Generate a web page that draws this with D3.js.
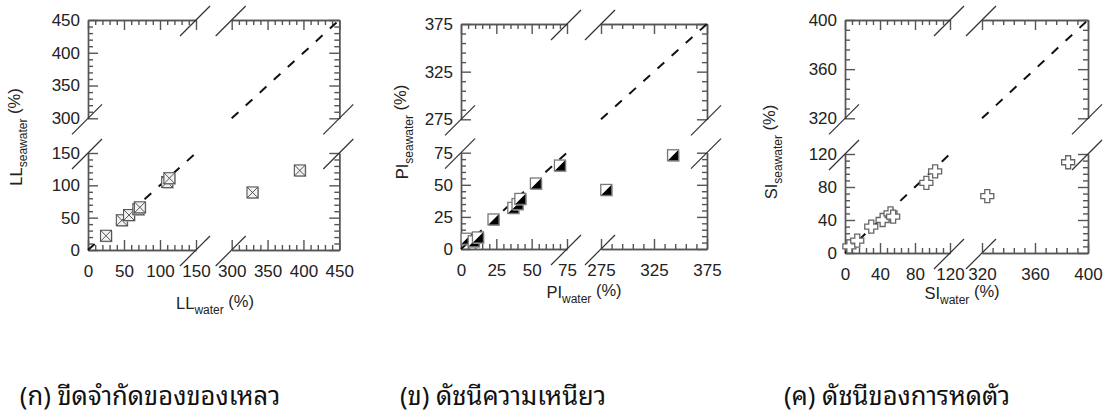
<!DOCTYPE html>
<html>
<head>
<meta charset="utf-8">
<script src="https://cdn.jsdelivr.net/npm/d3@7"></script>
<style>
  html, body { margin: 0; padding: 0; background: #fff; }
  svg { display: block; }
  .tick text { font-family: "Liberation Sans", Arimo, Arial, sans-serif; font-size: 17px; fill: #222; }
  .label { font-family: "Liberation Sans", Arimo, Arial, sans-serif; font-size: 16.5px; fill: #222; }
  .caption { font-family: "Noto Sans Thai Looped", "Noto Sans Thai", "Loma", "Garuda", "Noto Sans", sans-serif; font-size: 25.5px; fill: #111; }
</style>
</head>
<body>
<svg id="chart" width="1105" height="419"></svg>
<script>
// liquid limit (ก)
const llWater = [25, 47, 57, 70, 72, 110, 113, 329, 395]
const llSeawater = [22, 46, 54, 63, 66, 105, 111, 89, 123]
const llLow = [0, 150]
const llHigh = [300, 450]
const llTicksLow = [0, 50, 100, 150]
const llTicksHigh = [300, 350, 400, 450]

// plasticity index (ข)
const piWater = [4, 9, 12, 23, 37, 40, 42, 53, 70, 280, 343]
const piSeawater = [8, 6, 9, 23, 32, 35, 39, 51, 65, 46, 73]
const piLow = [0, 75]
const piHigh = [275, 375]
const piTicksLow = [0, 25, 50, 75]
const piTicksHigh = [275, 325, 375]

// shrinkage index (ค)
const siWater = [5, 14, 30, 43, 52, 55, 93, 103, 324, 385]
const siSeawater = [8, 15, 32, 40, 48, 44, 85, 99, 69, 110]
const siLow = [0, 120]
const siHigh = [320, 400]
const siTicksLow = [0, 40, 80, 120]
const siTicksHigh = [320, 360, 400]

const captions = ['(ก) ขีดจำกัดของของเหลว', '(ข) ดัชนีความเหนียว', '(ค) ดัชนีของการหดตัว']

const panels = [
  {
    name: 'LL', xs: llWater, ys: llSeawater, low: llLow, high: llHigh,
    ticksLow: llTicksLow, ticksHigh: llTicksHigh, minorLow: 10, minorHigh: 10, marker: 'boxx',
    xL: [88, 196], xH: [231.7, 339.3], yL: [250, 153], yH: [118.3, 20],
    yLabel: [22, 137], xLabel: [215, 309], caption: [150, 405]
  },
  {
    name: 'PI', xs: piWater, ys: piSeawater, low: piLow, high: piHigh,
    ticksLow: piTicksLow, ticksHigh: piTicksHigh, minorLow: 5, minorHigh: 10, marker: 'half',
    xL: [461, 567], xH: [601, 707], yL: [249, 152.7], yH: [119.3, 24],
    yLabel: [408, 132], xLabel: [584, 298], caption: [503, 405]
  },
  {
    name: 'SI', xs: siWater, ys: siSeawater, low: siLow, high: siHigh,
    ticksLow: siTicksLow, ticksHigh: siTicksHigh, minorLow: 8, minorHigh: 8, marker: 'plus',
    xL: [845, 950], xH: [982, 1088], yL: [253, 154], yH: [118.3, 20],
    yLabel: [777, 152], xLabel: [962, 299], caption: [897, 405]
  }
]

const svg = d3.select('#chart')
const AXIS = '#555'

function drawAxis (g, axisFn, scale, majors, step, pos, labels) {
  const minors = d3.range(scale.domain()[0], scale.domain()[1] + 0.001, step)
    .filter(v => !majors.includes(v))
  g.append('g').attr('transform', pos)
    .call(axisFn(scale).tickValues(minors).tickSizeInner(-5).tickSizeOuter(0).tickFormat(''))
  const major = g.append('g').attr('transform', pos)
    .call(axisFn(scale).tickValues(majors).tickSizeInner(-10).tickSizeOuter(0)
      .tickPadding(axisFn === d3.axisBottom ? 15 : 8)
      .tickFormat(labels ? d3.format('d') : ''))
  major.attr('font-family', null).attr('font-size', null)
  g.selectAll('.domain, .tick line').attr('stroke', AXIS).attr('stroke-width', 1.4)
  return major
}

function marker (g, type, x, y) {
  const s = 5.5
  if (type === 'boxx') {
    g.append('rect').attr('x', x - s + 1).attr('y', y - s + 1).attr('width', 2 * s).attr('height', 2 * s)
      .attr('fill', '#bbb')
    g.append('rect').attr('x', x - s).attr('y', y - s).attr('width', 2 * s).attr('height', 2 * s)
      .attr('fill', '#f2f2f2').attr('stroke', '#555').attr('stroke-width', 1.1)
    g.append('path').attr('d', `M${x - s},${y - s}L${x + s},${y + s}M${x + s},${y - s}L${x - s},${y + s}`)
      .attr('stroke', '#444').attr('stroke-width', 0.9)
  } else if (type === 'half') {
    g.append('rect').attr('x', x - s + 1).attr('y', y - s + 1).attr('width', 2 * s).attr('height', 2 * s)
      .attr('fill', '#bbb')
    g.append('rect').attr('x', x - s).attr('y', y - s).attr('width', 2 * s).attr('height', 2 * s)
      .attr('fill', '#fff')
    g.append('path').attr('d', `M${x + s},${y - s}L${x + s},${y + s}L${x - s},${y + s}Z`).attr('fill', '#000')
    g.append('rect').attr('x', x - s).attr('y', y - s).attr('width', 2 * s).attr('height', 2 * s)
      .attr('fill', 'none').attr('stroke', '#777').attr('stroke-width', 1.3)
  } else {
    const a = 6.5, b = 2.5
    const d = `M${x - b},${y - a}H${x + b}V${y - b}H${x + a}V${y + b}H${x + b}V${y + a}H${x - b}V${y + b}H${x - a}V${y - b}H${x - b}Z`
    g.append('path').attr('d', d).attr('fill', '#fff').attr('stroke', '#666').attr('stroke-width', 1.3)
  }
}

function slash (g, x, y) {
  g.append('line').attr('x1', x - 16).attr('y1', y + 16).attr('x2', x + 14).attr('y2', y - 14)
    .attr('stroke', '#333').attr('stroke-width', 1.2)
}

panels.forEach(p => {
  const g = svg.append('g')
  const xLo = d3.scaleLinear().domain(p.low).range(p.xL)
  const xHi = d3.scaleLinear().domain(p.high).range(p.xH)
  const yLo = d3.scaleLinear().domain(p.low).range(p.yL)
  const yHi = d3.scaleLinear().domain(p.high).range(p.yH)

  // frame: bottom / top / left / right, each in two pieces
  drawAxis(g, d3.axisBottom, xLo, p.ticksLow, p.minorLow, `translate(0,${p.yL[0]})`, true)
  drawAxis(g, d3.axisBottom, xHi, p.ticksHigh, p.minorHigh, `translate(0,${p.yL[0]})`, true)
  drawAxis(g, d3.axisTop, xLo, p.ticksLow, p.minorLow, `translate(0,${p.yH[1]})`, false)
  drawAxis(g, d3.axisTop, xHi, p.ticksHigh, p.minorHigh, `translate(0,${p.yH[1]})`, false)
  drawAxis(g, d3.axisLeft, yLo, p.ticksLow, p.minorLow, `translate(${p.xL[0]},0)`, true)
  drawAxis(g, d3.axisLeft, yHi, p.ticksHigh, p.minorHigh, `translate(${p.xL[0]},0)`, true)
  drawAxis(g, d3.axisRight, yLo, p.ticksLow, p.minorLow, `translate(${p.xH[1]},0)`, false)
  drawAxis(g, d3.axisRight, yHi, p.ticksHigh, p.minorHigh, `translate(${p.xH[1]},0)`, false)

  // break marks
  const bx = [p.xL[1], p.xH[0]]
  const by = [p.yL[1], p.yH[0]]
  bx.forEach(x => { slash(g, x, p.yL[0]); slash(g, x, p.yH[1]) })
  by.forEach(y => { slash(g, p.xL[0], y); slash(g, p.xH[1], y) })

  // 1:1 lines
  const dash = g.append('g').attr('stroke', '#111').attr('stroke-width', 2).attr('stroke-dasharray', '9,10')
  dash.append('line').attr('x1', xLo(p.low[0])).attr('y1', yLo(p.low[0]))
    .attr('x2', xLo(p.low[1])).attr('y2', yLo(p.low[1]))
  dash.append('line').attr('x1', xHi(p.high[0])).attr('y1', yHi(p.high[0]))
    .attr('x2', xHi(p.high[1])).attr('y2', yHi(p.high[1]))

  // points
  const mg = g.append('g')
  p.xs.forEach((xv, i) => {
    const yv = p.ys[i]
    const px = xv > p.low[1] ? xHi(xv) : xLo(xv)
    const py = yv > p.low[1] ? yHi(yv) : yLo(yv)
    marker(mg, p.marker, px, py)
  })

  // axis titles
  const yt = g.append('text').attr('class', 'label')
    .attr('transform', `translate(${p.yLabel[0]},${p.yLabel[1]}) rotate(-90)`).attr('text-anchor', 'middle')
  yt.append('tspan').text(p.name)
  yt.append('tspan').attr('font-size', 12).attr('dy', '0.4em').text('seawater')
  yt.append('tspan').attr('dy', '-0.4em').text(' (%)')

  const xt = g.append('text').attr('class', 'label')
    .attr('x', p.xLabel[0]).attr('y', p.xLabel[1]).attr('text-anchor', 'middle')
  xt.append('tspan').text(p.name)
  xt.append('tspan').attr('font-size', 12).attr('dy', '0.4em').text('water')
  xt.append('tspan').attr('dy', '-0.4em').text(' (%)')
})

svg.selectAll('text.caption').data(captions).enter().append('text')
  .attr('class', 'caption')
  .attr('x', (d, i) => panels[i].caption[0])
  .attr('y', (d, i) => panels[i].caption[1])
  .attr('text-anchor', 'middle')
  .text(d => d)
</script>
</body>
</html>
